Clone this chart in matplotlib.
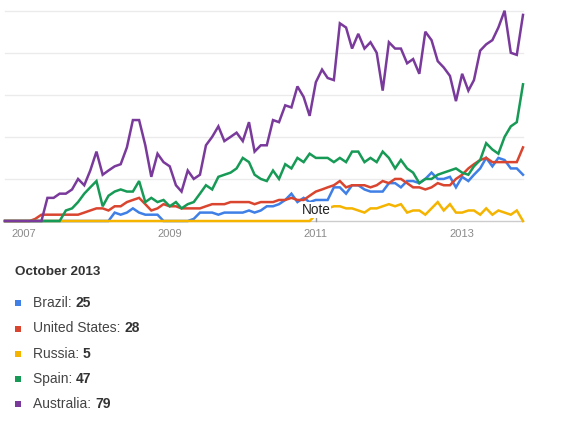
import matplotlib
matplotlib.use("Agg")
import matplotlib.pyplot as plt
from matplotlib.patches import Rectangle
import pandas as pd

plt.rcParams['font.family'] = ['Liberation Sans', 'DejaVu Sans']

start_month = "2006-10-01"
n_months = 86
legend_month_index = 84
legend_title = "October 2013"
year_ticks = ["2007-01-01", "2009-01-01", "2011-01-01", "2013-01-01"]
year_labels = ["2007", "2009", "2011", "2013"]
note_date = "2011-01-01"
note_text = "Note"

countries = ["Brazil", "United States", "Russia", "Spain", "Australia"]
colors = ["#3f7fe6", "#d9452f", "#f5b400", "#179a55", "#7a3a9c"]

brazil = [0, 0, 0, 0, 0, 0, 0, 0, 0, 0, 0, 0, 0, 0, 0, 0, 0, 0,
          4, 3, 4, 6, 4, 3, 3, 3, 0, 0, 0, 0, 0, 1,
          4, 4, 4, 3, 4, 4, 4, 4, 5, 4, 5, 7, 7, 8, 10, 13,
          9, 11, 9, 10, 10, 10, 16, 16, 13, 17, 17, 15, 14, 14, 14, 18, 18, 16, 19, 19,
          18, 20, 23, 20, 20, 21, 16, 21, 19, 22, 25, 30, 26, 30, 29, 25, 25, 22]
united_states = [0, 0, 0, 0, 0,
                 1, 3, 3, 3, 3, 3, 3, 3, 4, 5, 6, 6, 5, 7, 7, 9, 10, 11, 8, 5,
                 6, 8, 7, 7, 6, 6, 6, 6, 7, 8, 8, 8, 9, 9, 9, 9, 8, 9, 9, 9, 10, 10, 11,
                 10, 10, 12, 14, 15, 16, 17, 19, 16, 17, 17, 17, 16, 17, 19, 18, 20, 20, 18, 16,
                 16, 15, 16, 18, 17, 17, 20, 22, 25, 27, 29, 30, 28, 28, 28, 28, 28, 35]
russia = [0, 0, 0, 0, 0, 0, 0, 0, 0, 0, 0, 0, 0, 0, 0, 0, 0, 0, 0, 0,
          0, 0, 0, 0, 0, 0, 0, 0, 0, 0, 0, 0, 0, 0, 0, 0, 0, 0, 0, 0,
          0, 0, 0, 0, 0, 0, 0, 0, 0, 0, 0,
          3, 5, 6,
          7, 7, 6, 6, 5, 4, 6, 6, 7, 8, 7, 8, 4, 5, 5, 3, 6, 9, 5, 8,
          4, 4, 5, 5, 3, 6, 3, 5, 4, 3, 5, 0]
spain = [0, 0, 0, 0, 0, 0, 0, 0, 0, 0,
         5, 6, 9, 13, 16, 19, 7, 12, 14, 15, 14, 14, 19, 9, 11, 9, 10, 7, 9, 6,
         8, 9, 13, 17, 15, 21, 22, 23, 25, 30, 28, 22, 20, 19, 24, 20, 27, 25,
         30, 28, 32, 30, 30, 30, 28, 30, 28, 33, 33, 28, 30, 28, 33, 30, 25, 29, 25, 23,
         18, 20, 20, 22, 23, 24, 25, 23, 22, 26, 29, 37, 34, 32, 40, 45, 47, 65]
australia = [0, 0, 0, 0, 0, 0, 0,
             11, 11, 13, 13, 15, 20, 17, 24, 33, 22, 24, 26, 27, 35, 48, 48, 36, 21,
             32, 28, 26, 17, 14, 24, 20, 22, 36, 40, 45, 38, 40, 42, 38, 47, 33, 36,
             36, 48, 47, 55, 54,
             64, 59, 50, 66, 72, 68, 67, 94, 92, 82, 89, 82, 85, 80, 62, 85, 82, 82,
             75, 77, 70, 90, 86, 76, 73, 69, 57, 70, 62, 67, 81, 84, 86, 92, 100, 80, 79, 98]

series = [brazil, united_states, russia, spain, australia]

W, H = 573, 422
fig = plt.figure(figsize=(W / 100, H / 100), dpi=100)
fig.patch.set_facecolor("white")

ax_left, ax_right, ax_top, ax_bottom = 5, 523, 10.7, 221
ax = fig.add_axes([ax_left / W, 1 - ax_bottom / H,
                   (ax_right - ax_left) / W, (ax_bottom - ax_top) / H])

dates = pd.date_range(start_month, periods=n_months, freq="MS")

for vals, c in zip(series, colors):
    ax.plot(dates, vals, color=c, lw=1.8, solid_joinstyle="miter", clip_on=False, zorder=3)

ax.set_ylim(0, 100)
ax.set_xlim(dates[0], dates[-1])
for g in [20, 40, 60, 80, 100]:
    ax.axhline(g, color="#ebebeb", lw=1, zorder=1, clip_on=False)
ax.axhline(0, color="#cccccc", lw=1, zorder=2, clip_on=False)

for s in ax.spines.values():
    s.set_visible(False)
ax.set_yticks([])
ax.set_xticks(pd.to_datetime(year_ticks))
ax.set_xticklabels(year_labels)
ax.tick_params(axis="x", length=0, pad=6, labelsize=8, labelcolor="#8a8a8a")

# note marker
nd = pd.to_datetime(note_date)
ax.plot([nd, nd], [0, 2.5], color="#999999", lw=1, zorder=4, clip_on=False)
ax.text(nd, 5.3, note_text, ha="center", va="center", fontsize=9.8, color="#222222",
        zorder=5, bbox=dict(facecolor="white", edgecolor="none", pad=0.6))

# legend block
fig.text(15 / W, 1 - 272 / H, legend_title, ha="left", va="center",
         fontsize=9.7, fontweight="bold", color="#333333")
row_y = [303, 328.5, 354, 379, 404]
sq = 6
for name, vals, c, y in zip(countries, series, colors, row_y):
    fig.add_artist(Rectangle(((18 - sq / 2) / W, 1 - (y + sq / 2) / H), sq / W, sq / H,
                             transform=fig.transFigure, facecolor=c, edgecolor="none"))
    t1 = fig.text(33 / W, 1 - y / H, name + ": ", ha="left", va="center",
                  fontsize=10, color="#444444")
    ax.annotate(str(vals[legend_month_index]), xy=(1, 0), xycoords=t1,
                ha="left", va="bottom", fontsize=10, fontweight="bold",
                color="#333333", annotation_clip=False)

fig.savefig("out.png", dpi=100)
